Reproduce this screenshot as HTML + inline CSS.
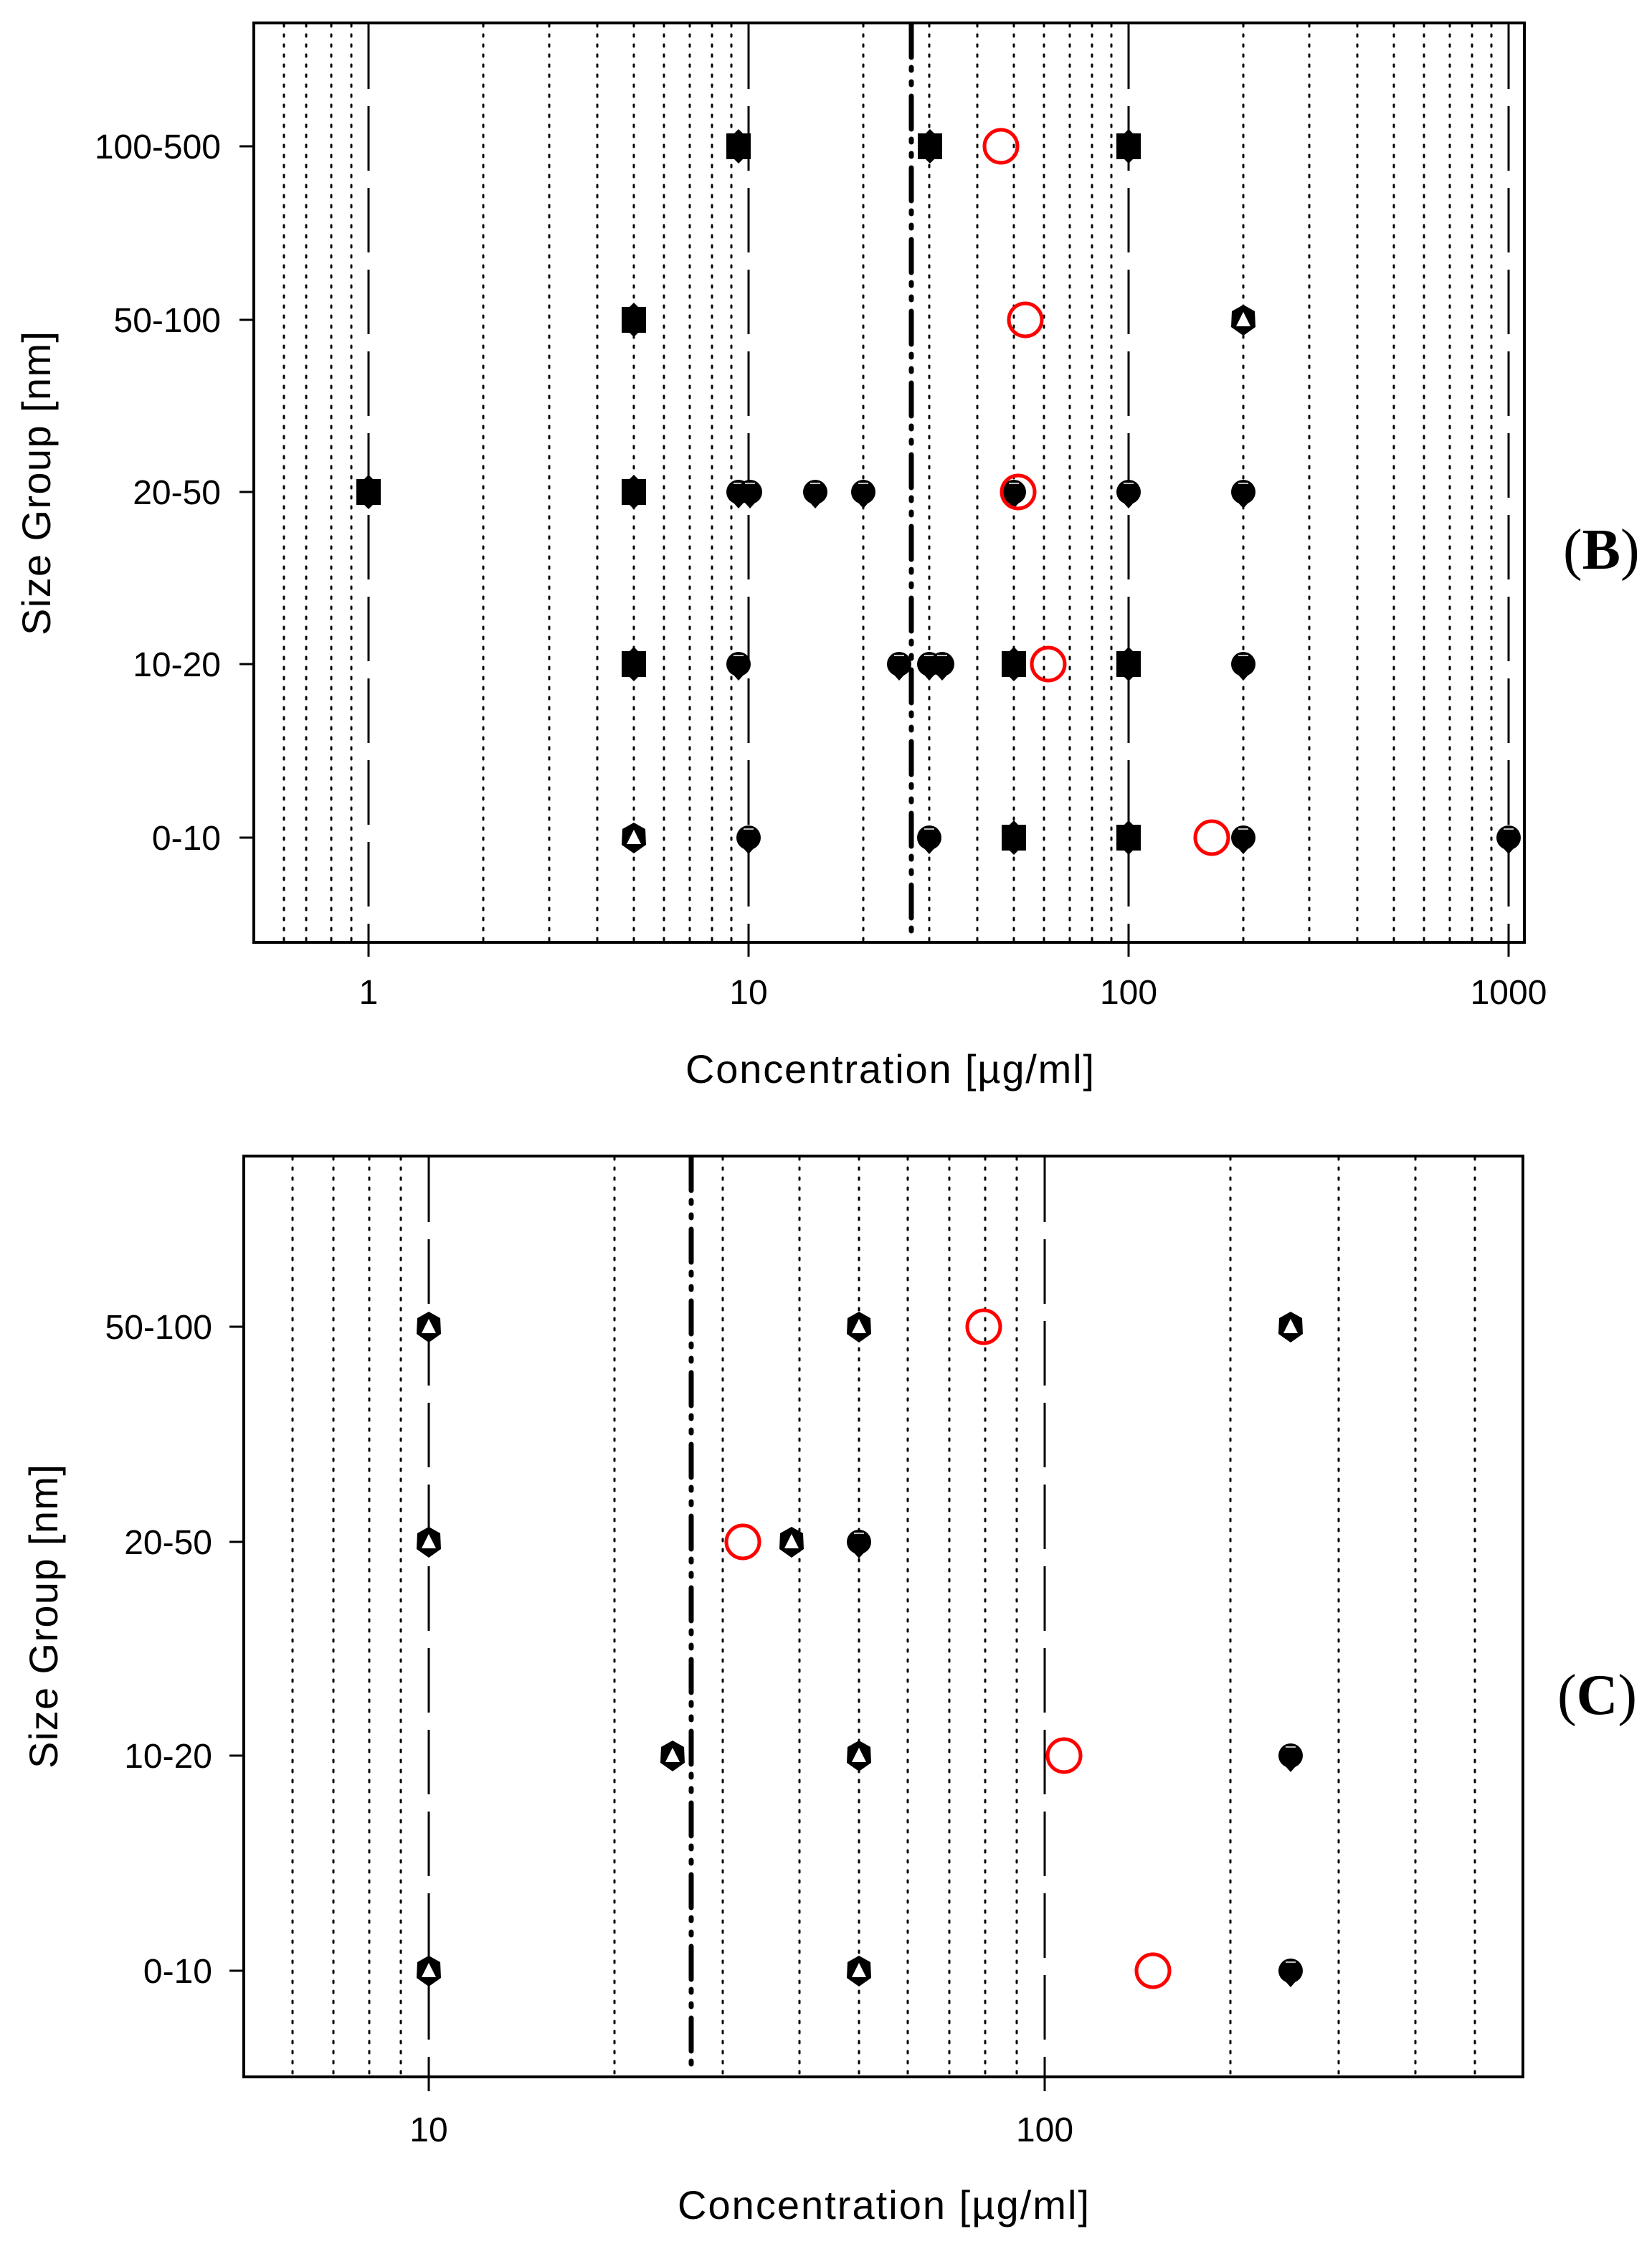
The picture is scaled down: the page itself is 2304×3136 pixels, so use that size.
<!DOCTYPE html>
<html><head><meta charset="utf-8"><style>html,body{margin:0;padding:0;background:#fff}svg{display:block}</style></head><body>
<svg xmlns="http://www.w3.org/2000/svg" width="2304" height="3136" viewBox="0 0 2304 3136" font-family="Liberation Sans, sans-serif">
<defs>
<g id="sq"><rect x="-17" y="-18" width="34" height="36" fill="#000"/><polygon points="-6,-18 0,-24 6,-18" fill="#000"/><polygon points="-6,18 0,24 6,18" fill="#000"/></g>
<g id="ci"><circle r="17" fill="#000"/><polygon points="-8,14 0,23 8,14" fill="#000"/><path d="M-7,-12 h14" stroke="#fff" stroke-width="1.5"/></g>
<g id="tr"><polygon points="0,-21 16,-12 17,10 0,22 -17,10 -16,-12" fill="#000"/><polygon points="0,-11 10,9 -10,9" fill="#fff"/></g>
<circle id="rc" r="23" fill="none" stroke="#ff0000" stroke-width="5"/>
</defs>

<!-- PANEL B -->
<g stroke="#000" stroke-width="3" stroke-dasharray="3,11" stroke-linecap="round" fill="none">
<path d="M396,34V1312M427,34V1312M462,34V1312M490,34V1312 M674,34V1312M766,34V1312M833,34V1312M884,34V1312M926,34V1312M962,34V1312M993,34V1312M1020,34V1312 M1204,34V1312M1296,34V1312M1363,34V1312M1414,34V1312M1456,34V1312M1492,34V1312M1523,34V1312M1550,34V1312 M1734,34V1312M1826,34V1312M1893,34V1312M1944,34V1312M1986,34V1312M2022,34V1312M2053,34V1312M2080,34V1312"/>
</g>
<g stroke="#000" stroke-width="3" stroke-dasharray="90,24" fill="none">
<path d="M514,34V1312M1044,34V1312M1574,34V1312M2104,34V1312"/>
</g>
<path d="M1271,34V1312" stroke="#000" stroke-width="7" stroke-dasharray="46,14,4,16,4,16" stroke-linecap="round" fill="none"/>
<rect x="354" y="32" width="1772" height="1282" fill="none" stroke="#000" stroke-width="4"/>
<g stroke="#000" stroke-width="3"><path d="M514,1314v20M1044,1314v20M1574,1314v20M2104,1314v20M334,204h20M334,446h20M334,686h20M334,926h20M334,1168h20"/></g>
<g font-size="48" text-anchor="end">
<text x="308" y="221">100-500</text><text x="308" y="463">50-100</text><text x="308" y="703">20-50</text><text x="308" y="943">10-20</text><text x="308" y="1185">0-10</text>
</g>
<g font-size="48" text-anchor="middle">
<text x="514" y="1400">1</text><text x="1044" y="1400">10</text><text x="1574" y="1400">100</text><text x="2104" y="1400">1000</text>
</g>
<text x="1241" y="1510" font-size="56" text-anchor="middle" textLength="570">Concentration [µg/ml]</text>
<text transform="translate(70,674) rotate(-90)" font-size="56" text-anchor="middle" textLength="424">Size Group [nm]</text>
<text x="2180" y="793" font-family="Liberation Serif, serif" font-size="80">(<tspan font-weight="bold">B</tspan>)</text>

<!-- B markers -->
<use href="#sq" x="1030" y="204"/><use href="#sq" x="1297" y="204"/><use href="#sq" x="1574" y="204"/><use href="#rc" x="1396" y="204"/>
<use href="#sq" x="884" y="446"/><use href="#tr" x="1734" y="446"/><use href="#rc" x="1430" y="446"/>
<use href="#sq" x="514" y="686"/><use href="#sq" x="884" y="686"/><use href="#ci" x="1030" y="686"/><use href="#ci" x="1046" y="686"/><use href="#ci" x="1137" y="686"/><use href="#ci" x="1204" y="686"/><use href="#ci" x="1414" y="686"/><use href="#rc" x="1420" y="686"/><use href="#ci" x="1574" y="686"/><use href="#ci" x="1734" y="686"/>
<use href="#sq" x="884" y="926"/><use href="#ci" x="1030" y="926"/><use href="#ci" x="1254" y="926"/><use href="#ci" x="1296" y="926"/><use href="#ci" x="1314" y="926"/><use href="#sq" x="1414" y="926"/><use href="#rc" x="1462" y="926"/><use href="#sq" x="1574" y="926"/><use href="#ci" x="1734" y="926"/>
<use href="#tr" x="884" y="1168"/><use href="#ci" x="1044" y="1168"/><use href="#ci" x="1296" y="1168"/><use href="#sq" x="1414" y="1168"/><use href="#sq" x="1574" y="1168"/><use href="#rc" x="1690" y="1168"/><use href="#ci" x="1734" y="1168"/><use href="#ci" x="2104" y="1168"/>

<!-- PANEL C -->
<g stroke="#000" stroke-width="3" stroke-dasharray="3,11" stroke-linecap="round" fill="none">
<path d="M408,1614V2894M465,1614V2894M515,1614V2894M559,1614V2894 M857,1614V2894M1008,1614V2894M1115,1614V2894M1198,1614V2894M1266,1614V2894M1324,1614V2894M1374,1614V2894M1418,1614V2894 M1716,1614V2894M1867,1614V2894M1974,1614V2894M2057,1614V2894"/>
</g>
<g stroke="#000" stroke-width="3" stroke-dasharray="90,24" fill="none">
<path d="M598,1614V2894M1457,1614V2894"/>
</g>
<path d="M964,1614V2894" stroke="#000" stroke-width="7" stroke-dasharray="46,14,4,16,4,16" stroke-linecap="round" fill="none"/>
<rect x="340" y="1612" width="1784" height="1284" fill="none" stroke="#000" stroke-width="4"/>
<g stroke="#000" stroke-width="3"><path d="M598,2896v20M1457,2896v20M320,1850h20M320,2150h20M320,2448h20M320,2748h20"/></g>
<g font-size="48" text-anchor="end">
<text x="296" y="1867">50-100</text><text x="296" y="2167">20-50</text><text x="296" y="2465">10-20</text><text x="296" y="2765">0-10</text>
</g>
<g font-size="48" text-anchor="middle">
<text x="598" y="2986">10</text><text x="1457" y="2986">100</text>
</g>
<text x="1232" y="3094" font-size="56" text-anchor="middle" textLength="574">Concentration [µg/ml]</text>
<text transform="translate(80,2254) rotate(-90)" font-size="56" text-anchor="middle" textLength="424">Size Group [nm]</text>
<text x="2172" y="2390" font-family="Liberation Serif, serif" font-size="80">(<tspan font-weight="bold">C</tspan>)</text>

<!-- C markers -->
<use href="#tr" x="598" y="1850"/><use href="#tr" x="1198" y="1850"/><use href="#rc" x="1372" y="1850"/><use href="#tr" x="1800" y="1850"/>
<use href="#tr" x="598" y="2150"/><use href="#rc" x="1036" y="2150"/><use href="#tr" x="1104" y="2150"/><use href="#ci" x="1198" y="2150"/>
<use href="#tr" x="938" y="2448"/><use href="#tr" x="1198" y="2448"/><use href="#rc" x="1484" y="2448"/><use href="#ci" x="1800" y="2448"/>
<use href="#tr" x="598" y="2748"/><use href="#tr" x="1198" y="2748"/><use href="#rc" x="1608" y="2748"/><use href="#ci" x="1800" y="2748"/>
</svg>
</body></html>
